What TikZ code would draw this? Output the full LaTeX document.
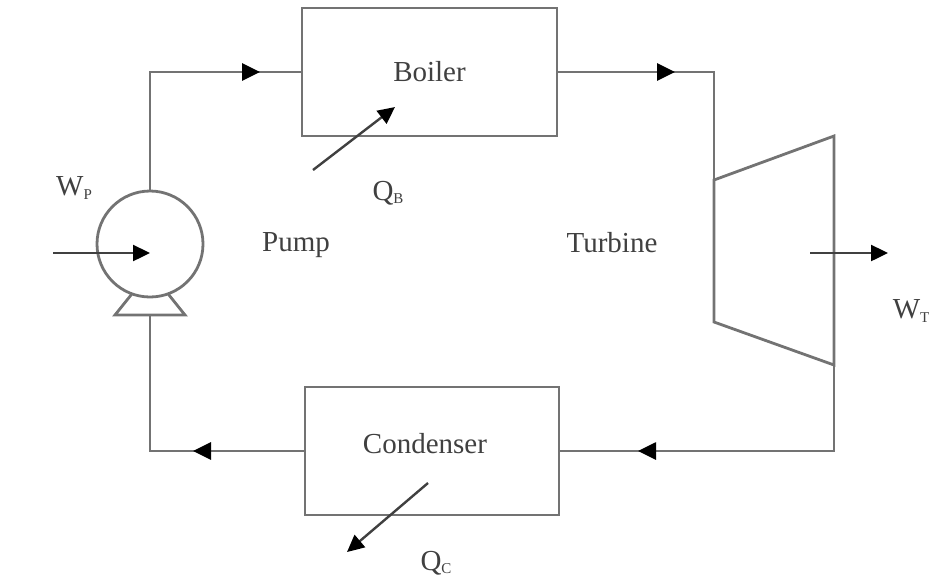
\documentclass[tikz,border=0pt]{standalone}
\usepackage{fontspec}
\setmainfont{Liberation Serif}
\usetikzlibrary{arrows.meta}
\newcommand{\lowsub}[1]{\raisebox{-0.12em}{\fontsize{7.5pt}{8pt}\selectfont #1}}
\begin{document}
\begin{tikzpicture}[x=0.5pt,y=-0.5pt,
  pipe/.style={draw=black!55, line width=1.4pt},
  flow/.style={draw=black!55, line width=1.4pt, -{Triangle[length=9pt,width=8.5pt,color=black]}},
  energy/.style={draw=black!75, line width=1.2pt, -{Triangle[length=8.5pt,width=8pt,color=black]}},
  unit/.style={draw=black!55, line width=1.4pt, rectangle, inner sep=0pt},
  lbl/.style={text=black!75, font=\fontsize{14.5pt}{17pt}\selectfont, inner sep=0pt}]
\useasboundingbox (0,0) rectangle (935,580);

% components
\node[unit, lbl, minimum width=127.5pt, minimum height=64pt] (boiler) at (429.5,72) {Boiler};
\node[unit, minimum width=127pt, minimum height=64pt] (condenser) at (432,451) {};
\node[lbl] (condlbl) at (425,444) {Condenser};
\node[circle, draw=black!55, line width=1.4pt, minimum size=53pt, inner sep=0pt] (pump) at (150,244) {};

% pump base
\coordinate (btl) at (132,293.8);
\coordinate (btr) at (168,293.8);
\coordinate (bl) at (115,315);
\coordinate (br) at (185,315);
\coordinate (pumpin) at (150,315);
\draw[pipe] (btl) -- (bl) -- (br) -- (btr);

% turbine
\coordinate (t1) at (714,180);
\coordinate (t2) at (834,136);
\coordinate (t3) at (834,365);
\coordinate (t4) at (714,322);
\draw[pipe, line join=miter] (t1) -- (t2) -- (t3) -- (t4) -- cycle;

% pipes
\draw[pipe] (pump.north) |- (boiler.west);
\draw[pipe] (boiler.east) -| (t1);
\draw[pipe] (t3) |- (condenser.east);
\draw[pipe] (condenser.west) -| (pumpin);

% flow arrows
\coordinate (f1s) at (190,72);  \coordinate (f1t) at (260,72);
\coordinate (f2s) at (605,72);  \coordinate (f2t) at (675,72);
\coordinate (f3s) at (710,451); \coordinate (f3t) at (638,451);
\coordinate (f4s) at (265,451); \coordinate (f4t) at (193,451);
\draw[flow] (f1s) -- (f1t);
\draw[flow] (f2s) -- (f2t);
\draw[flow] (f3s) -- (f3t);
\draw[flow] (f4s) -- (f4t);

% energy arrows
\coordinate (wp0) at (53,253);  \coordinate (wp1) at (150,253);
\coordinate (wt0) at (810,253); \coordinate (wt1) at (888,253);
\coordinate (qb0) at (313,170); \coordinate (qb1) at (395,107);
\coordinate (qc0) at (428,483); \coordinate (qc1) at (347,552);
\draw[energy] (wp0) -- (wp1);
\draw[energy] (wt0) -- (wt1);
\draw[energy] (qb0) -- (qb1);
\draw[energy] (qc0) -- (qc1);

% labels
\node[lbl] (wp) at (74,188) {W\lowsub{P}};
\node[lbl] (wt) at (911,311) {W\lowsub{T}};
\node[lbl] (qb) at (388,193) {Q\lowsub{B}};
\node[lbl] (qc) at (436,563) {Q\lowsub{C}};
\node[lbl] (pumplbl) at (296,245) {Pump};
\node[lbl] (turblbl) at (612,243) {Turbine};
\end{tikzpicture}
\end{document}
